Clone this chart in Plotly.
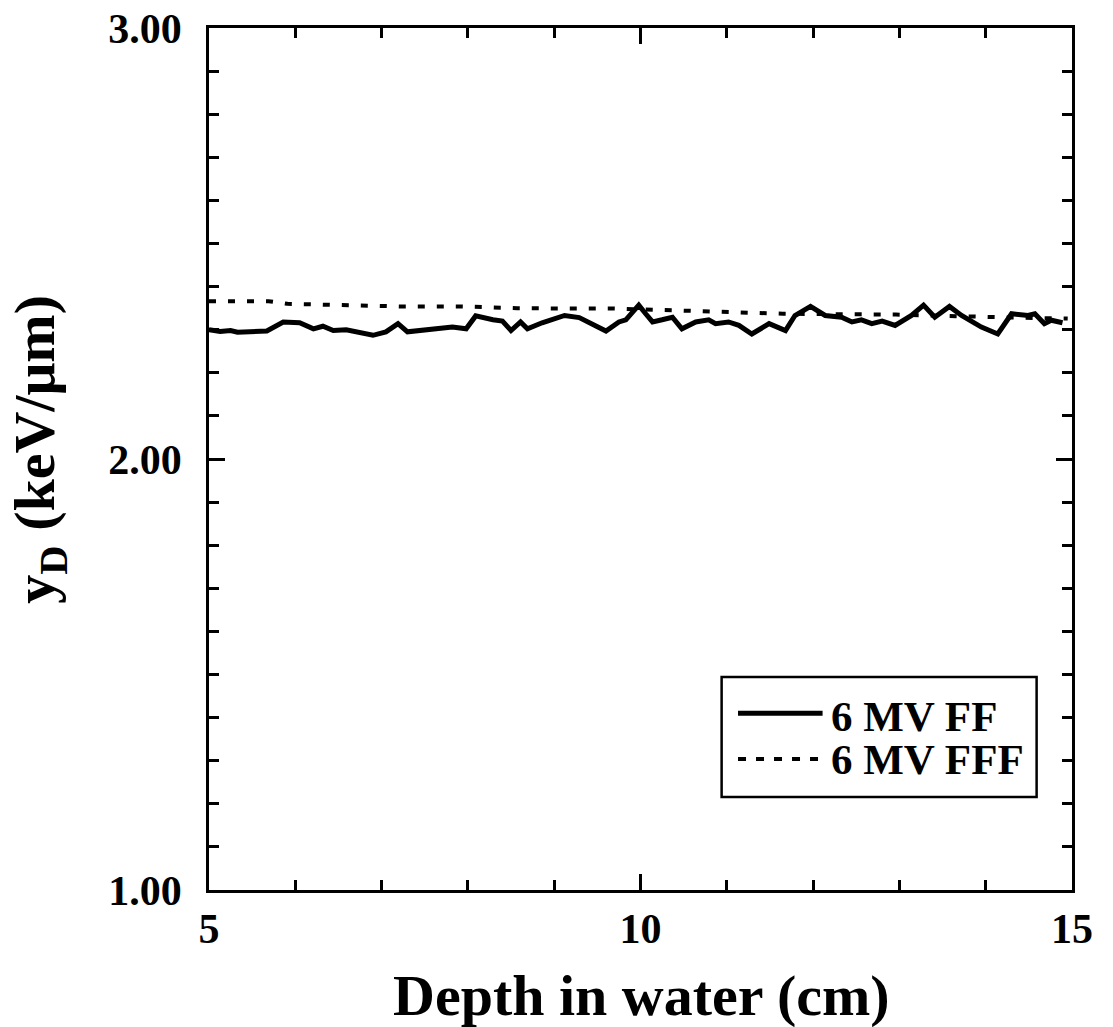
import plotly.graph_objects as go

# 6 MV FF (solid)
ff_depth = [5.00, 5.13, 5.25, 5.33, 5.67, 5.86, 6.05, 6.21, 6.32, 6.44, 6.59, 6.90, 7.05, 7.19,
            7.30, 7.59, 7.82, 7.98, 8.09, 8.29, 8.40, 8.50, 8.61, 8.69, 8.86, 9.12, 9.29, 9.60,
            9.75, 9.83, 9.91, 9.98, 10.06, 10.14, 10.25, 10.37, 10.48, 10.64, 10.79, 10.87, 11.02,
            11.14, 11.29, 11.49, 11.68, 11.79, 11.97, 12.14, 12.33, 12.45, 12.56, 12.68, 12.80,
            12.95, 13.14, 13.28, 13.41, 13.58, 13.72, 13.95, 14.14, 14.30, 14.49, 14.57, 14.68,
            14.76, 14.89]
ff_yd = [2.300, 2.296, 2.298, 2.294, 2.297, 2.318, 2.316, 2.302, 2.308, 2.298, 2.300, 2.287, 2.295,
         2.314, 2.295, 2.300, 2.306, 2.302, 2.332, 2.323, 2.320, 2.298, 2.318, 2.302, 2.316, 2.333,
         2.328, 2.297, 2.318, 2.323, 2.341, 2.357, 2.337, 2.318, 2.323, 2.329, 2.302, 2.318, 2.323,
         2.314, 2.318, 2.310, 2.290, 2.314, 2.298, 2.333, 2.354, 2.333, 2.329, 2.318, 2.323, 2.314,
         2.320, 2.310, 2.333, 2.357, 2.329, 2.354, 2.333, 2.306, 2.290, 2.337, 2.333, 2.337, 2.314,
         2.322, 2.316]

# 6 MV FFF (dotted)
fff_depth = [5.00, 5.25, 5.69, 5.91, 6.56, 7.22, 7.91, 8.57, 9.22, 9.69, 10.54, 11.23, 11.65,
             12.96, 14.08, 14.56, 14.95]
fff_yd = [2.366, 2.366, 2.366, 2.360, 2.356, 2.354, 2.354, 2.350, 2.349, 2.349, 2.344, 2.340,
          2.337, 2.335, 2.328, 2.327, 2.326]

series_names = ["6 MV FF", "6 MV FFF"]
x_ticks = [5, 10, 15]
y_ticks = [1.0, 2.0, 3.0]
y_tick_labels = ["1.00", "2.00", "3.00"]

FONT = "Liberation Serif"

fig = go.Figure()
fig.add_trace(go.Scatter(x=ff_depth, y=ff_yd, mode="lines", name=series_names[0],
                         line=dict(color="black", width=5), showlegend=False))
fig.add_trace(go.Scatter(x=fff_depth, y=fff_yd, mode="lines", name=series_names[1],
                         line=dict(color="black", width=4, dash="7px,12px"), showlegend=False))

axis_common = dict(
    showgrid=False, zeroline=False, showline=True, linecolor="black", linewidth=2.5,
    mirror="allticks", ticks="inside", ticklen=16, tickwidth=2.5, tickcolor="black",
    tickfont=dict(family=FONT, size=42, color="black", weight="bold"),
)

fig.update_xaxes(range=[5, 15], tickvals=x_ticks, ticktext=[str(v) for v in x_ticks],
                 minor=dict(dtick=1, ticks="inside", ticklen=10, tickwidth=2.5, tickcolor="black"),
                 ticklabelstandoff=0, **axis_common)
fig.update_yaxes(range=[1, 3], tickvals=y_ticks, ticktext=y_tick_labels,
                 minor=dict(dtick=0.1, ticks="inside", ticklen=10, tickwidth=2.5, tickcolor="black"),
                 ticklabelstandoff=16, **axis_common)

# Axis titles
fig.add_annotation(text="Depth in water (cm)", xref="paper", yref="paper", x=0.501, y=-0.122,
                   xanchor="center", yanchor="middle", showarrow=False,
                   font=dict(family=FONT, size=58, color="black", weight="bold"))
fig.add_annotation(text="y<sub>D</sub> (keV/μm)", xref="paper", yref="paper", x=-0.197, y=0.512,
                   xanchor="center", yanchor="middle", showarrow=False, textangle=-90,
                   font=dict(family=FONT, size=58, color="black", weight="bold"))

# Manual legend
fig.add_shape(type="rect", xref="paper", yref="paper", x0=0.594, x1=0.959, y0=0.108, y1=0.247,
              line=dict(color="black", width=2.5), fillcolor="white", layer="above")
fig.add_shape(type="line", xref="paper", yref="paper", x0=0.613, x1=0.711, y0=0.205, y1=0.205,
              line=dict(color="black", width=5))
fig.add_shape(type="line", xref="paper", yref="paper", x0=0.613, x1=0.711, y0=0.152, y1=0.152,
              line=dict(color="black", width=4, dash="8px,10px"))
for name, ypos in zip(series_names, [0.2018, 0.1524]):
    fig.add_annotation(text=name, xref="paper", yref="paper", x=0.718, y=ypos,
                       xanchor="left", yanchor="middle", showarrow=False, height=40,
                       font=dict(family=FONT, size=43, color="black", weight="bold"))

fig.update_layout(
    width=1113, height=1027,
    margin=dict(l=208.5, r=40.5, t=28, b=137, autoexpand=False),
    plot_bgcolor="white", paper_bgcolor="white",
    showlegend=False,
)

fig.write_html("out.html", config={"displayModeBar": False})

# remove the default browser body margin so the figure sits at the page origin
with open("out.html", "r", encoding="utf-8") as f:
    html = f.read()
html = html.replace("<body>", '<body style="margin:0;">', 1)
with open("out.html", "w", encoding="utf-8") as f:
    f.write(html)
